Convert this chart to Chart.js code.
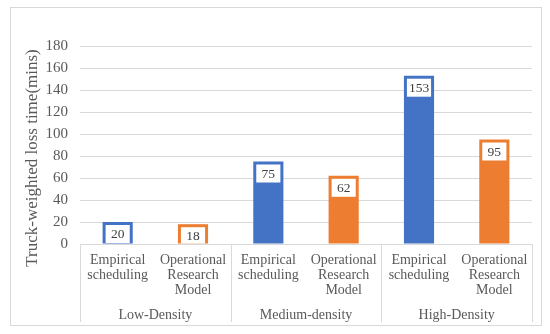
<!DOCTYPE html>
<html>
<head>
<meta charset="utf-8">
<script src="https://cdn.jsdelivr.net/npm/chart.js@4"></script>
<style>
  html, body { margin: 0; padding: 0; background: #fff; }
  #wrap { width: 550px; height: 334px; }
</style>
</head>
<body>
<div id="wrap"><canvas id="lossChart" width="550" height="334"></canvas></div>
<script>
// chart data
const groups = ['Low-Density', 'Medium-density', 'High-Density'];
const methodLabels = [['Empirical', 'scheduling'], ['Operational', 'Research', 'Model']];
const lossTimes = [20, 18, 75, 62, 153, 95];
const yTitle = 'Truck-weighted loss time(mins)';
const yMax = 180;
const yStep = 20;

const blue = '#4472C4';
const orange = '#ED7D31';
const serif = '"Liberation Serif", "Times New Roman", serif';

// six bars: each group has one bar per method
const subLabels = [];
const barColors = [];
groups.forEach(() => {
    methodLabels.forEach((m, i) => {
        subLabels.push(m);
        barColors.push(i === 0 ? blue : orange);
    });
});

// outer frame, axis title, group separators and the white value boxes
const decorations = {
    id: 'decorations',
    beforeDraw(chart) {
        const c = chart.ctx;
        c.save();
        c.fillStyle = '#fff';
        c.fillRect(0, 0, chart.width, chart.height);
        c.strokeStyle = '#d9d9d9';
        c.lineWidth = 1;
        c.strokeRect(10.5, 7.5, 531, 318);
        // y axis title, sits a bit lower than the plot centre
        c.translate(33, 158);
        c.rotate(-Math.PI / 2);
        c.font = '17px ' + serif;
        c.fillStyle = '#595959';
        c.textAlign = 'center';
        c.textBaseline = 'middle';
        c.fillText(yTitle, 0, 0);
        c.restore();
    },
    afterDraw(chart) {
        const c = chart.ctx;
        const x = chart.scales.x;
        const area = chart.chartArea;
        c.save();
        c.strokeStyle = '#d9d9d9';
        c.lineWidth = 1;
        const step = (x.right - x.left) / groups.length;
        for (let i = 0; i <= groups.length; i++) {
            const px = Math.round(x.left + i * step) + 0.5;
            c.beginPath();
            c.moveTo(px, area.bottom);
            c.lineTo(px, 322);
            c.stroke();
        }
        // value labels in white boxes at the top of each bar
        const meta = chart.getDatasetMeta(0);
        c.font = '13.5px ' + serif;
        c.textAlign = 'center';
        c.textBaseline = 'middle';
        meta.data.forEach((bar, i) => {
            const left = bar.x - bar.width / 2 + 3;
            const w = bar.width - 6;
            const top = bar.y + 3;
            const h = Math.min(18, bar.base - top);
            c.fillStyle = '#fff';
            c.fillRect(left, top, w, h);
            c.fillStyle = '#404040';
            c.fillText(String(lossTimes[i]), bar.x, top + 9.5);
        });
        c.restore();
    }
};

const ctx = document.getElementById('lossChart').getContext('2d');
const lossChart = new Chart(ctx, {
    type: 'bar',
    data: {
        labels: subLabels,
        datasets: [{
            data: lossTimes,
            backgroundColor: barColors,
            barPercentage: 0.4,
            categoryPercentage: 1
        }]
    },
    options: {
        responsive: false,
        animation: false,
        layout: { padding: { left: 0, right: 18, top: 46, bottom: 0 } },
        plugins: {
            legend: { display: false },
            tooltip: { enabled: false }
        },
        scales: {
            y: {
                min: 0,
                max: yMax,
                ticks: {
                    stepSize: yStep,
                    padding: 12,
                    color: '#595959',
                    font: { family: serif, size: 15 }
                },
                grid: { color: '#d9d9d9', drawTicks: false },
                border: { display: false },
                afterFit(scale) { scale.width = 80; }
            },
            x: {
                position: 'bottom',
                grid: { display: false, drawTicks: false },
                border: { display: false },
                ticks: {
                    padding: 9,
                    maxRotation: 0,
                    autoSkip: false,
                    color: '#595959',
                    font: { family: serif, size: 14, lineHeight: 15 / 14 }
                },
                afterFit(scale) { scale.height = 56; }
            },
            x2: {
                type: 'category',
                position: 'bottom',
                labels: groups,
                grid: { display: false, drawTicks: false },
                border: { display: false },
                ticks: {
                    padding: 7,
                    color: '#595959',
                    font: { family: serif, size: 14 }
                },
                afterFit(scale) { scale.height = 34; }
            }
        }
    },
    plugins: [decorations]
});
</script>
</body>
</html>
